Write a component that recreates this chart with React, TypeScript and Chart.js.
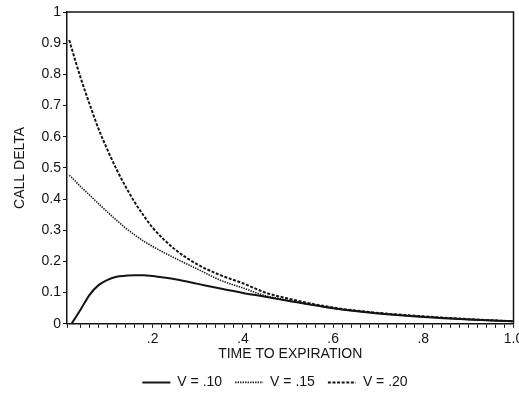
import React, { useEffect, useRef } from "react";
import { Chart, registerables } from "chart.js";

Chart.register(...registerables);

// Time to expiration (years)
const times = [0.015, 0.02, 0.04, 0.06, 0.08, 0.1, 0.12, 0.14, 0.16, 0.18, 0.2, 0.25, 0.3, 0.35, 0.4, 0.45, 0.5, 0.6, 0.7, 0.8, 0.9, 1.0];

// Call delta for each volatility (null = not plotted)
const deltaV10 = [null, 0.0, 0.045, 0.093, 0.124, 0.141, 0.151, 0.154, 0.156, 0.156, 0.153, 0.143, 0.128, 0.113, 0.099, 0.087, 0.074, 0.05, 0.033, 0.022, 0.014, 0.008];
const deltaV15 = [0.476, 0.47, 0.44, 0.413, 0.385, 0.358, 0.332, 0.307, 0.285, 0.265, 0.248, 0.21, 0.175, 0.14, 0.115, 0.09, 0.075, 0.05, 0.034, 0.023, 0.014, 0.008];
const deltaV20 = [0.91, 0.885, 0.79, 0.705, 0.625, 0.557, 0.495, 0.44, 0.39, 0.347, 0.308, 0.238, 0.19, 0.156, 0.13, 0.1, 0.081, 0.052, 0.035, 0.024, 0.015, 0.008];

const seriesLabels = ["V = .10", "V = .15", "V = .20"];

const xLabelValues = [0.2, 0.4, 0.6, 0.8, 1.0];
const xLabelTexts = [".2", ".4", ".6", ".8", "1.0"];

const yLabelValues = [0, 0.1, 0.2, 0.3, 0.4, 0.5, 0.6, 0.7, 0.8, 0.9, 1];
const yLabelTexts = ["0", "0.1", "0.2", "0.3", "0.4", "0.5", "0.6", "0.7", "0.8", "0.9", "1"];

const INK = "#141414";
const FONT = "'Liberation Sans', Arial, sans-serif";
const FS = 14;

const framePlugin = {
  id: "frame",
  afterDatasetsDraw(chart: any) {
    const { ctx, chartArea } = chart;
    ctx.save();
    ctx.strokeStyle = INK;
    ctx.lineWidth = 1.5;
    ctx.beginPath();
    ctx.moveTo(chartArea.left, chartArea.top);
    ctx.lineTo(chartArea.right, chartArea.top);
    ctx.lineTo(chartArea.right, chartArea.bottom);
    ctx.stroke();
    ctx.restore();
  },
};

function toPoints(ys: (number | null)[]) {
  return times.map((t, i) => ({ x: t, y: ys[i] }));
}

export default function App() {
  const ref = useRef<HTMLCanvasElement | null>(null);

  useEffect(() => {
    if (!ref.current) return;
    const chart = new Chart(ref.current, {
      type: "line",
      data: {
        datasets: [
          {
            label: seriesLabels[0],
            data: toPoints(deltaV10),
            borderColor: INK,
            backgroundColor: INK,
            borderWidth: 2,
            borderDash: [],
            pointRadius: 0,
            cubicInterpolationMode: "monotone",
          },
          {
            label: seriesLabels[1],
            data: toPoints(deltaV15),
            borderColor: "#1a1a1a",
            backgroundColor: "#1a1a1a",
            borderWidth: 1.6,
            borderDash: [1.4, 1.1],
            pointRadius: 0,
            cubicInterpolationMode: "monotone",
          },
          {
            label: seriesLabels[2],
            data: toPoints(deltaV20),
            borderColor: INK,
            backgroundColor: INK,
            borderWidth: 2,
            borderDash: [3, 1.6],
            pointRadius: 0,
            cubicInterpolationMode: "monotone",
          },
        ],
      },
      options: {
        responsive: false,
        animation: false,
        layout: { padding: { left: 36.5, right: 5.5, top: 12, bottom: 1.6 } },
        font: { family: FONT, size: FS },
        plugins: {
          tooltip: { enabled: false },
          legend: {
            display: true,
            position: "bottom",
            labels: {
              usePointStyle: true,
              pointStyle: "line",
              pointStyleWidth: 28,
              padding: 13,
              color: INK,
              font: { family: FONT, size: FS },
              generateLabels: (c: any) => {
                const items = (Chart.defaults as any).plugins.legend.labels.generateLabels(c);
                return items.map((it: any, i: number) => {
                  const ds = c.data.datasets[i];
                  return {
                    ...it,
                    pointStyle: "line",
                    lineDash: ds.borderDash || [],
                    lineWidth: ds.borderWidth,
                    strokeStyle: ds.borderColor,
                    fillStyle: ds.borderColor,
                  };
                });
              },
            },
          },
        },
        scales: {
          x: {
            type: "linear",
            min: 0.01,
            max: 1.0,
            afterFit(scale: any) {
              scale.height = 38.6;
              scale.paddingLeft = 0;
              scale.paddingRight = 0;
            },
            ticks: {
              stepSize: 0.02,
              autoSkip: false,
              maxRotation: 0,
              padding: 2.6,
              color: INK,
              font: { family: FONT, size: FS },
              callback: (v: any) => {
                const idx = xLabelValues.findIndex((lv) => Math.abs(lv - Number(v)) < 1e-6);
                return idx >= 0 ? xLabelTexts[idx] : "";
              },
            },
            grid: {
              display: true,
              drawOnChartArea: false,
              drawTicks: true,
              tickLength: 4,
              color: INK,
              lineWidth: 1,
            },
            border: { display: true, color: INK, width: 1.5 },
            title: {
              display: true,
              text: "TIME TO EXPIRATION",
              color: INK,
              font: { family: FONT, size: FS },
              padding: { top: 0, bottom: 0 },
            },
          },
          y: {
            type: "linear",
            min: 0,
            max: 1,
            afterFit(scale: any) {
              scale.width = 30.5;
              scale.paddingTop = 0;
              scale.paddingBottom = 0;
            },
            ticks: {
              stepSize: 0.1,
              padding: 2,
              color: INK,
              font: { family: FONT, size: FS },
              callback: (v: any) => {
                const idx = yLabelValues.findIndex((lv) => Math.abs(lv - Number(v)) < 1e-6);
                return idx >= 0 ? yLabelTexts[idx] : "";
              },
            },
            grid: {
              display: true,
              drawOnChartArea: false,
              drawTicks: true,
              tickLength: 4,
              color: INK,
              lineWidth: 1,
            },
            border: { display: true, color: INK, width: 1.5 },
            title: {
              display: true,
              text: "CALL DELTA",
              color: INK,
              font: { family: FONT, size: FS },
              padding: { top: -24.9, bottom: 0 },
            },
          },
        },
      },
      plugins: [framePlugin],
    } as any);
    return () => chart.destroy();
  }, []);

  return (
    <div style={{ position: "fixed", left: 0, top: 0, width: 519, height: 401, background: "#fff" }}>
      <canvas ref={ref} width={519} height={401} style={{ display: "block" }} />
    </div>
  );
}
